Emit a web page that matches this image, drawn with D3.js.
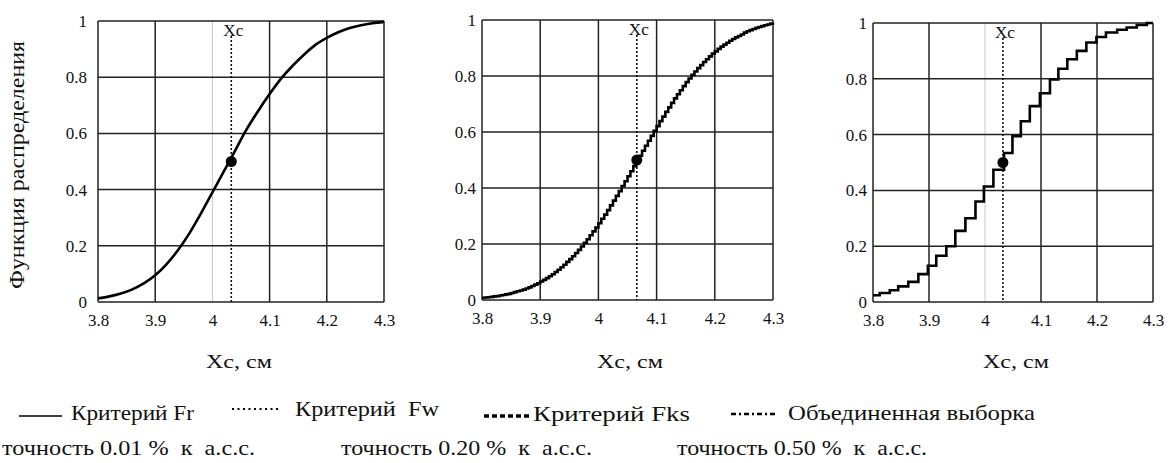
<!DOCTYPE html>
<html>
<head>
<meta charset="utf-8">
<script src="https://cdn.jsdelivr.net/npm/d3@7"></script>
<style>
  body { margin: 0; background: #fff; }
  text { font-family: "Liberation Serif", "Times New Roman", serif; fill: #111; }
</style>
</head>
<body>
<svg id="chart" width="1170" height="463"></svg>
<script>
const xTicks = [3.8, 3.9, 4.0, 4.1, 4.2, 4.3];
const yTicks = [0, 0.2, 0.4, 0.6, 0.8, 1];
const xcValues = [4.033, 4.066, 4.032];

// panel 1 - smooth curve (Fr)
const frX = [3.80, 3.82, 3.84, 3.86, 3.88, 3.90, 3.92, 3.94, 3.96, 3.98, 4.00, 4.02, 4.04,
             4.06, 4.08, 4.10, 4.12, 4.14, 4.16, 4.18, 4.20, 4.22, 4.24, 4.26, 4.28, 4.30];
const frF = [0.013, 0.02, 0.03, 0.045, 0.066, 0.095, 0.135, 0.185, 0.245, 0.315, 0.39, 0.465, 0.54,
             0.615, 0.68, 0.74, 0.795, 0.84, 0.88, 0.915, 0.94, 0.96, 0.975, 0.985, 0.992, 0.997];

// panel 2 - fine staircase, one value every 0.005 from 3.8
const fwStart = 3.8, fwStep = 0.005;
const fwF = [0.008, 0.009, 0.010, 0.011, 0.013, 0.014, 0.016, 0.018, 0.020, 0.022,
             0.025, 0.028, 0.031, 0.034, 0.037, 0.041, 0.045, 0.050, 0.055, 0.060,
             0.066, 0.072, 0.078, 0.085, 0.092, 0.100, 0.108, 0.117, 0.126, 0.136,
             0.146, 0.156, 0.168, 0.179, 0.191, 0.204, 0.217, 0.231, 0.245, 0.259,
             0.274, 0.290, 0.305, 0.321, 0.338, 0.355, 0.372, 0.389, 0.407, 0.424,
             0.442, 0.460, 0.478, 0.496, 0.515, 0.533, 0.551, 0.569, 0.586, 0.604,
             0.621, 0.639, 0.655, 0.672, 0.688, 0.704, 0.720, 0.735, 0.749, 0.764,
             0.778, 0.791, 0.804, 0.816, 0.828, 0.839, 0.850, 0.860, 0.870, 0.880,
             0.888, 0.897, 0.905, 0.912, 0.919, 0.926, 0.932, 0.938, 0.943, 0.948,
             0.955, 0.960, 0.964, 0.968, 0.972, 0.975, 0.978, 0.981, 0.984, 0.987, 0.990];

// panel 3 - coarse staircase (Fks)
const fksX = [3.800, 3.812, 3.830, 3.845, 3.863, 3.881, 3.898, 3.913, 3.931, 3.947, 3.965,
              3.983, 3.998, 4.015, 4.034, 4.049, 4.064, 4.080, 4.098, 4.116, 4.131, 4.147,
              4.164, 4.181, 4.199, 4.216, 4.236, 4.253, 4.271, 4.289, 4.300];
const fksF = [0.024, 0.032, 0.042, 0.056, 0.072, 0.100, 0.130, 0.166, 0.200, 0.255, 0.300,
              0.360, 0.414, 0.474, 0.534, 0.594, 0.648, 0.702, 0.748, 0.798, 0.836, 0.870,
              0.900, 0.930, 0.950, 0.966, 0.976, 0.984, 0.993, 1.000, 1.000];

const axisTitle = "Xc, см";
const yTitle = "Функция распределения";
const xcLabel = "Xc";
const legendLabels = ["Критерий Fr", "Критерий  Fw", "Критерий Fks", "Объединенная выборка"];
const precisionLabels = ["точность 0.01 %  к  а.с.с.", "точность 0.20 %  к  а.с.с.", "точность 0.50 %  к  а.с.с."];

const fwX = fwF.map((d, i) => fwStart + i * fwStep);

const panels = [
  {x0: 98,  x1: 384,  yTop: 21, yBot: 302, pad: 11, lightFour: true,
   data: frX.map((x, i) => [x, frF[i]]), curve: d3.curveMonotoneX},
  {x0: 482, x1: 773,  yTop: 20, yBot: 300, pad: 6,  lightFour: false,
   data: fwX.map((x, i) => [x, fwF[i]]), curve: d3.curveStepAfter},
  {x0: 873, x1: 1153, yTop: 23, yBot: 302, pad: 6,  lightFour: true,
   data: fksX.map((x, i) => [x, fksF[i]]), curve: d3.curveStepAfter}
];
const titleX = [239, 630, 1016];
const precisionX = [[2, 253], [341, 251], [677, 250]];

const svg = d3.select("#chart");

panels.forEach((p, k) => {
  let x = d3.scaleLinear().domain([3.8, 4.3]).range([p.x0, p.x1]);
  let y = d3.scaleLinear().domain([0, 1]).range([p.yBot, p.yTop]);
  let g = svg.append("g");

  // grid
  g.selectAll(".vgrid").data(xTicks).enter().append("line")
    .attr("x1", d => x(d)).attr("x2", d => x(d))
    .attr("y1", p.yTop).attr("y2", p.yBot)
    .attr("stroke", d => (p.lightFour && d === 4.0) ? "#c8c8c8" : "#222")
    .attr("stroke-width", d => (p.lightFour && d === 4.0) ? 1 : 1.5);
  g.selectAll(".hgrid").data(yTicks).enter().append("line")
    .attr("x1", p.x0).attr("x2", p.x1)
    .attr("y1", d => y(d)).attr("y2", d => y(d))
    .attr("stroke", "#222").attr("stroke-width", 1.5);

  // axes
  let fmt = d => String(+d.toFixed(1));
  let xAxis = d3.axisBottom(x).tickValues(xTicks).tickSize(0).tickPadding(12).tickFormat(fmt);
  let yAxis = d3.axisLeft(y).tickValues(yTicks).tickSize(0).tickPadding(p.pad).tickFormat(fmt);
  g.append("g").attr("transform", `translate(0,${p.yBot})`).call(xAxis)
    .attr("font-family", null)
    .call(a => a.select(".domain").remove())
    .selectAll("text").style("font-family", "'Liberation Serif', serif").style("font-size", "17px").attr("fill", "#1a1a1a");
  g.append("g").attr("transform", `translate(${p.x0},0)`).call(yAxis)
    .attr("font-family", null)
    .call(a => a.select(".domain").remove())
    .selectAll("text").style("font-family", "'Liberation Serif', serif").style("font-size", "17px").attr("fill", "#1a1a1a");

  // Xc marker line
  let xc = xcValues[k];
  g.append("line")
    .attr("x1", x(xc)).attr("x2", x(xc))
    .attr("y1", p.yTop + 15).attr("y2", p.yBot)
    .attr("stroke", "#111").attr("stroke-width", 1.6).attr("stroke-dasharray", "2,2");
  g.append("text")
    .attr("x", x(xc) + 2).attr("y", p.yTop + 15)
    .attr("text-anchor", "middle").style("font-size", "17px")
    .attr("textLength", 20).attr("lengthAdjust", "spacingAndGlyphs")
    .text(xcLabel);

  // curve
  let line = d3.line().x(d => x(d[0])).y(d => y(d[1])).curve(p.curve);
  g.append("path").datum(p.data)
    .attr("d", line)
    .attr("fill", "none").attr("stroke", "#000").attr("stroke-width", 2.6)
    .attr("stroke-linejoin", "miter");

  // point at F = 0.5
  g.append("circle").attr("cx", x(xc)).attr("cy", y(0.5)).attr("r", 5.5).attr("fill", "#000");

  // axis title
  g.append("text")
    .attr("x", titleX[k]).attr("y", 368)
    .attr("text-anchor", "middle").style("font-size", "19px")
    .attr("textLength", 66).attr("lengthAdjust", "spacingAndGlyphs")
    .text(axisTitle);
});

// y title
svg.append("text")
  .attr("transform", "translate(24,165) rotate(-90)")
  .attr("text-anchor", "middle").style("font-size", "21px")
  .attr("textLength", 248).attr("lengthAdjust", "spacingAndGlyphs")
  .text(yTitle);

// legend
const legendSym = [
  {x1: 19,  x2: 62,  y: 416, w: 1.5, dash: null},
  {x1: 232, x2: 278, y: 409, w: 2,   dash: "2,3.5"},
  {x1: 484, x2: 529, y: 416, w: 3.5, dash: "5,3"},
  {x1: 731, x2: 776, y: 414, w: 2.6, dash: "5,3,2,3"}
];
const legendText = [[71, 420, 123], [295, 416, 144], [533, 421, 157], [788, 420, 247]];
legendSym.forEach((s, i) => {
  svg.append("line").attr("x1", s.x1).attr("x2", s.x2).attr("y1", s.y).attr("y2", s.y)
    .attr("stroke", "#000").attr("stroke-width", s.w)
    .attr("stroke-dasharray", s.dash);
  svg.append("text")
    .attr("x", legendText[i][0]).attr("y", legendText[i][1])
    .style("font-size", "21px").style("white-space", "pre")
    .attr("textLength", legendText[i][2]).attr("lengthAdjust", "spacingAndGlyphs")
    .text(legendLabels[i]);
});

precisionLabels.forEach((t, i) => {
  svg.append("text")
    .attr("x", precisionX[i][0]).attr("y", 455)
    .style("font-size", "21px").style("white-space", "pre")
    .attr("textLength", precisionX[i][1]).attr("lengthAdjust", "spacingAndGlyphs")
    .text(t);
});
</script>
</body>
</html>
